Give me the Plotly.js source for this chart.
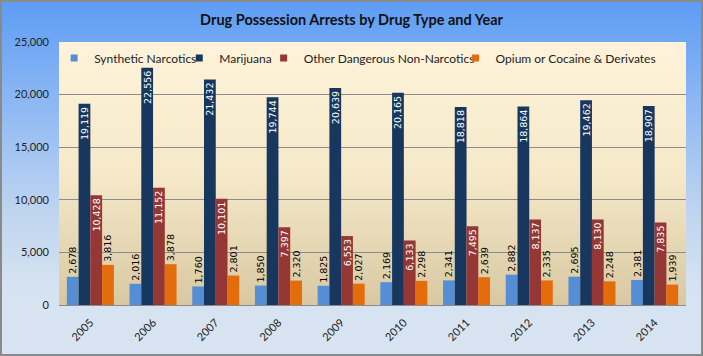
<!DOCTYPE html>
<html>
<head>
<meta charset="utf-8">
<script src="https://cdn.plot.ly/plotly-3.0.1.min.js"></script>
<style>
  html, body { margin: 0; padding: 0; }
  #wrap { position: relative; width: 703px; height: 356px;
    background: linear-gradient(to bottom, #5c9cf4 0%, #8fb9f3 30%, #c0d5f0 60%, #d5e2f1 80%, #d8e4f1 100%); }
  #chart { position: absolute; left: 0; top: 0; width: 703px; height: 356px; }
  #frame { position: absolute; left: 0; top: 0; width: 703px; height: 356px; box-sizing: border-box;
    border: 2px solid #8a8a8a; pointer-events: none; }
</style>
</head>
<body>
<div id="wrap"><div id="chart"></div><div id="frame"></div></div>
<script>
const years = ['2005','2006','2007','2008','2009','2010','2011','2012','2013','2014'];
const seriesNames = ['Synthetic Narcotics', 'Marijuana', 'Other Dangerous Non-Narcotics', 'Opium or Cocaine & Derivates'];
const synthetic = [2678, 2016, 1760, 1850, 1825, 2169, 2341, 2882, 2695, 2381];
const marijuana = [19119, 22556, 21432, 19744, 20639, 20165, 18818, 18864, 19462, 18907];
const otherDangerous = [10428, 11152, 10101, 7397, 6553, 6133, 7495, 8137, 8130, 7835];
const opium = [3816, 3878, 2801, 2320, 2027, 2298, 2639, 2335, 2248, 1939];
const yTicks = [0, 5000, 10000, 15000, 20000, 25000];

const colors = ['#558ed5', '#17375e', '#953735', '#e46c0a'];
const labelFont = {family: 'DejaVu Sans', size: 9.5};
const legendIds = ['legend', 'legend2', 'legend3', 'legend4'];
const legendX = [0.077, 0.255, 0.375, 0.648];

function mk(i, vals, inside) {
  return {
    type: 'bar', name: seriesNames[i], x: years, y: vals,
    marker: {color: colors[i]},
    texttemplate: '%{y:,}',
    textangle: -90,
    textposition: inside ? 'inside' : 'outside',
    insidetextanchor: 'end',
    constraintext: 'none',
    cliponaxis: false,
    textfont: Object.assign({}, labelFont, {color: inside ? '#ffffff' : '#000000'}),
    showlegend: false,
    hoverinfo: 'x+y+name'
  };
}

const data = [
  mk(0, synthetic, false),
  mk(1, marijuana, true),
  mk(2, otherDangerous, true),
  mk(3, opium, false)
];
// legend-only entries (small square keys like the original)
seriesNames.forEach(function (n, i) {
  data.push({type: 'scatter', mode: 'markers', name: n, x: [null], y: [null],
    marker: {symbol: 'square', size: 7, color: colors[i]},
    legend: legendIds[i], showlegend: true, hoverinfo: 'skip'});
});

const grad = "data:image/svg+xml;utf8," + encodeURIComponent(
  '<svg xmlns="http://www.w3.org/2000/svg" width="100" height="100" preserveAspectRatio="none">' +
  '<defs><linearGradient id="g" x1="0" y1="0" x2="0" y2="1">' +
  '<stop offset="0" stop-color="#fef3da"/><stop offset="0.5" stop-color="#f6e9c9"/><stop offset="1" stop-color="#d8c8a2"/>' +
  '</linearGradient></defs><rect width="100" height="100" fill="url(#g)"/></svg>');

const layout = {
  width: 703, height: 356,
  margin: {l: 59, r: 17, t: 42, b: 51, autoexpand: false},
  paper_bgcolor: 'rgba(0,0,0,0)',
  plot_bgcolor: 'rgba(0,0,0,0)',
  barmode: 'group', bargap: 0.25, bargroupgap: 0,
  title: {text: '<b>Drug Possession Arrests by Drug Type and Year</b>',
    font: {family: 'Lato', size: 14.5, color: '#111'},
    x: 0.5, xanchor: 'center', y: 0.945, yanchor: 'middle'},
  showlegend: true,
  xaxis: {type: 'category', tickangle: -45, tickfont: {family: 'Lato', size: 11, color: '#222'},
    showline: true, linecolor: '#8a8a8a', linewidth: 1, ticks: '', showgrid: false,
    ticklabelstandoff: 6, automargin: false},
  yaxis: {range: [0, 25000], tickvals: yTicks, tickformat: ',d',
    tickfont: {family: 'Lato', size: 11, color: '#222'},
    showgrid: true, gridcolor: '#8c8c8c', gridwidth: 1, zeroline: false, ticks: '', showline: false,
    ticklabelstandoff: 9, automargin: false},
  images: [{source: grad, xref: 'paper', yref: 'paper', x: 0, y: 1, sizex: 1, sizey: 1,
    xanchor: 'left', yanchor: 'top', sizing: 'stretch', layer: 'below'}]
};
legendIds.forEach(function (id, i) {
  layout[id] = {orientation: 'h', xref: 'container', yref: 'container',
    x: legendX[i], xanchor: 'left', y: 1 - 58 / 356, yanchor: 'middle',
    bgcolor: 'rgba(0,0,0,0)', borderwidth: 0,
    font: {family: 'Lato', size: 12, color: '#222'}, itemwidth: 30};
});

Plotly.newPlot('chart', data, layout, {displayModeBar: false, staticPlot: true});
</script>
</body>
</html>
